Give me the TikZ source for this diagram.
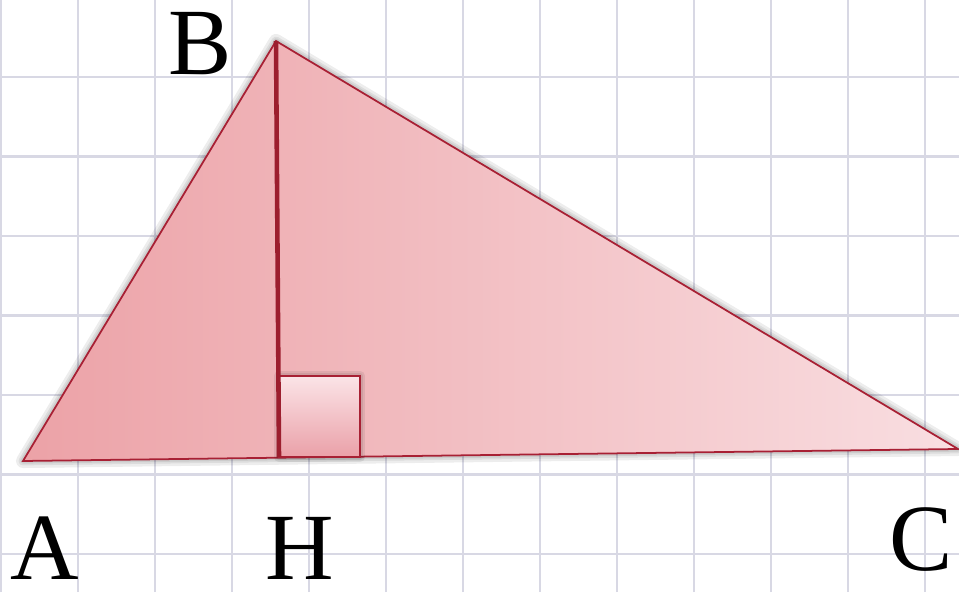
\documentclass[tikz,border=0pt]{standalone}
\usepackage{fontspec}
\setmainfont{Liberation Serif}
\definecolor{gridline}{RGB}{216,216,228}
\definecolor{edgered}{RGB}{168,32,52}
\definecolor{heightred}{RGB}{156,30,46}
\definecolor{pinkdark}{RGB}{236,162,167}
\definecolor{pinklight}{RGB}{249,222,225}
\definecolor{boxtop}{RGB}{251,228,231}
\definecolor{boxbottom}{RGB}{234,160,168}
\tikzset{
  vertex/.style={font=\fontsize{54}{54}\selectfont, inner sep=0pt},
  side/.style={draw=edgered, line width=1pt},
  halo/.style={black, opacity=0.07, line join=round},
}
\begin{document}
\begin{tikzpicture}
\useasboundingbox (0,0) rectangle (19.18,11.84);
\fill[white] (0,0) rectangle (19.18,11.84);
% squared paper
\foreach \x in {0,...,12} \draw[gridline, line width=1.4pt] (0.02+1.54*\x,0) -- (0.02+1.54*\x,11.84);
\foreach \y in {0,...,6} \draw[gridline, line width=1.4pt] (0,0.76+1.59*\y) -- (19.18,0.76+1.59*\y);
% triangle and height
\coordinate (A) at (0.46,2.62);
\coordinate (B) at (5.52,11.02);
\coordinate (C) at (19.16,2.86);
\coordinate (H) at (5.58,2.70);
\coordinate (S) at (7.20,4.32);
\foreach \w in {8,5,3} \draw[halo, line width=\w pt] (A) -- (B) -- (C) -- cycle;
\path[left color=pinkdark, right color=pinklight] (A) -- (B) -- (C) -- cycle;
\draw[side] (A) -- (B) -- (C) -- cycle;
\foreach \w in {6,3} \draw[halo, line width=\w pt] (H) rectangle (S);
\draw[side, top color=boxtop, bottom color=boxbottom] (H) rectangle (S);
\draw[heightred, line width=2.6pt] (B) -- (H);
\node[vertex] (labA) at (0.9,0.88) {A};
\node[vertex] (labB) at (4.0,10.96) {B};
\node[vertex] (labH) at (6.0,0.88) {H};
\node[vertex] (labC) at (18.42,1.04) {C};
\end{tikzpicture}
\end{document}
